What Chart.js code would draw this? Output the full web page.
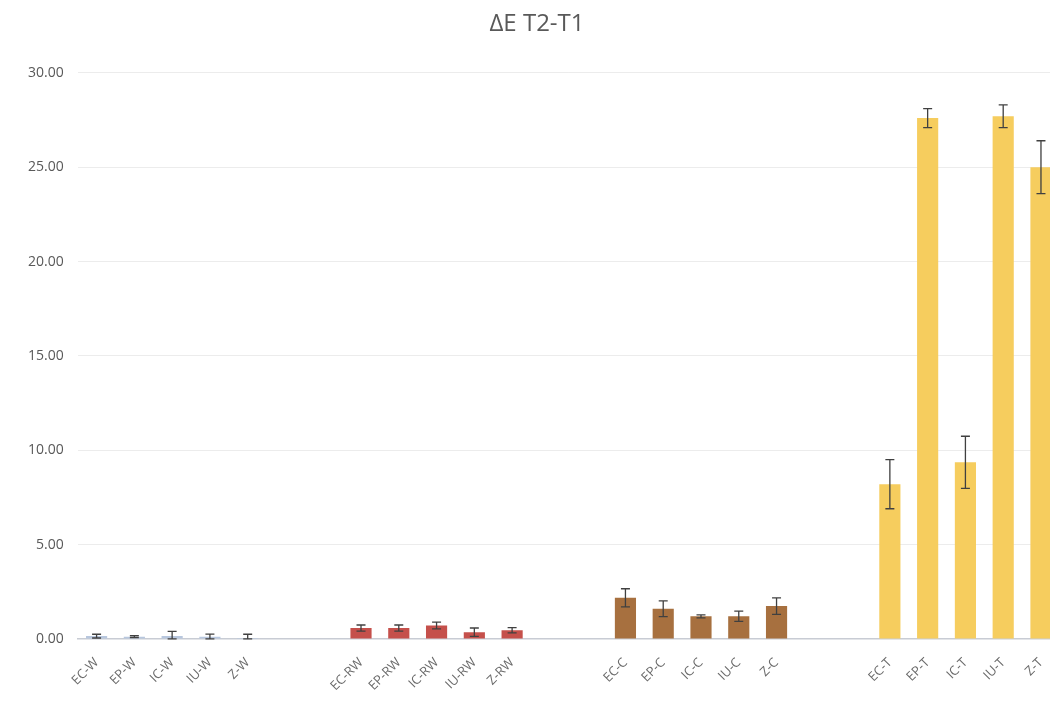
<!DOCTYPE html>
<html>
<head>
<meta charset="utf-8">
<script src="https://cdn.jsdelivr.net/npm/chart.js@4.4.1/dist/chart.umd.min.js"></script>
<style>
    html, body {margin: 0; padding: 0; background: #fff; overflow: hidden;}
    #wrap {position: relative; width: 1060px; height: 705px;}
</style>
</head>
<body>
<div id="wrap"><canvas id="myChart"></canvas></div>
<script>
// categories, '' = empty slot between groups
var categories = [
    'EC-W', 'EP-W', 'IC-W', 'IU-W', 'Z-W', '', '',
    'EC-RW', 'EP-RW', 'IC-RW', 'IU-RW', 'Z-RW', '', '',
    'EC-C', 'EP-C', 'IC-C', 'IU-C', 'Z-C', '', '',
    'EC-T', 'EP-T', 'IC-T', 'IU-T', 'Z-T'
];
var deltaE = [
    0.15, 0.12, 0.16, 0.12, 0.05, null, null,
    0.58, 0.58, 0.71, 0.36, 0.46, null, null,
    2.18, 1.60, 1.20, 1.20, 1.74, null, null,
    8.20, 27.60, 9.36, 27.70, 25.00
];
var stdDev = [
    0.10, 0.05, 0.24, 0.14, 0.20, null, null,
    0.16, 0.16, 0.18, 0.22, 0.14, null, null,
    0.48, 0.42, 0.08, 0.27, 0.44, null, null,
    1.30, 0.50, 1.38, 0.60, 1.40
];
var yTicks = [0, 5, 10, 15, 20, 25, 30];

function barColor(label) {
    if (/-RW$/.test(label)) return '#c5504b';
    if (/-W$/.test(label)) return '#b8c7de';
    if (/-C$/.test(label)) return '#a7703f';
    if (/-T$/.test(label)) return '#f6cd5e';
    return 'rgba(0,0,0,0)';
}

var errorBars = {
    id: 'errorBars',
    afterDatasetsDraw: function (chart) {
        var ctx = chart.ctx;
        var yScale = chart.scales.y;
        var meta = chart.getDatasetMeta(0);
        ctx.save();
        ctx.strokeStyle = '#404040';
        ctx.lineWidth = 1.3;
        meta.data.forEach(function (bar, i) {
            if (deltaE[i] === null) return;
            var top = yScale.getPixelForValue(deltaE[i] + stdDev[i]);
            var bottom = yScale.getPixelForValue(Math.max(0, deltaE[i] - stdDev[i]));
            var x = bar.x;
            ctx.beginPath();
            ctx.moveTo(x, top);
            ctx.lineTo(x, bottom);
            ctx.moveTo(x - 4.5, top);
            ctx.lineTo(x + 4.5, top);
            ctx.moveTo(x - 4.5, bottom);
            ctx.lineTo(x + 4.5, bottom);
            ctx.stroke();
        });
        ctx.restore();
    }
};

Chart.defaults.font.family = "'Open Sans', 'Noto Sans', sans-serif";
Chart.defaults.color = '#595959';

new Chart(document.getElementById('myChart').getContext('2d'), {
    type: 'bar',
    data: {
        labels: categories,
        datasets: [{
            label: 'ΔE T2-T1',
            data: deltaE,
            backgroundColor: categories.map(barColor),
            barPercentage: 0.56,
            categoryPercentage: 1
        }]
    },
    options: {
        responsive: true,
        maintainAspectRatio: false,
        animation: false,
        layout: {padding: {left: 14, right: 0, top: 6, bottom: 3}},
        plugins: {
            legend: {display: false},
            tooltip: {enabled: false},
            title: {
                display: true,
                text: 'ΔE T2-T1',
                color: '#595959',
                font: {size: 24, weight: 'normal'},
                padding: {top: 4, bottom: 34}
            }
        },
        scales: {
            x: {
                grid: {display: false},
                border: {display: true, color: '#c8ccd4', width: 1.5},
                ticks: {
                    autoSkip: false,
                    maxRotation: 45,
                    minRotation: 45,
                    padding: 8,
                    font: {size: 13},
                    color: '#6a6a6a'
                }
            },
            y: {
                min: 0,
                max: 30,
                afterBuildTicks: function (axis) {
                    axis.ticks = yTicks.map(function (v) { return {value: v}; });
                },
                grid: {color: '#ececec', drawTicks: false},
                border: {display: false},
                ticks: {
                    padding: 14,
                    font: {size: 14},
                    color: '#595959',
                    callback: function (v) { return Number(v).toFixed(2); }
                }
            }
        }
    },
    plugins: [errorBars]
});
</script>
</body>
</html>
